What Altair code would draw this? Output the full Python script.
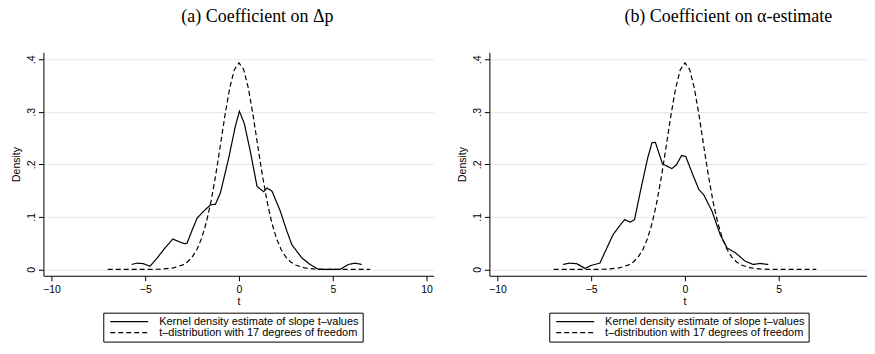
import altair as alt
import pandas as pd

KDE = "Kernel density estimate of slope t–values"
TD = "t–distribution with 17 degrees of freedom"

# t-distribution (17 df) curve
t_grid = [-7.0, -6.0, -5.5, -5.0, -4.5, -4.0, -3.5, -3.0, -2.75, -2.5, -2.25, -2.0,
          -1.75, -1.5, -1.25, -1.0, -0.75, -0.5, -0.25, 0.0, 0.25, 0.5, 0.75, 1.0,
          1.25, 1.5, 1.75, 2.0, 2.25, 2.5, 2.75, 3.0, 3.5, 4.0, 4.5, 5.0, 5.5, 6.0, 7.0]
t_dens = [0.0, 0.00001, 0.00004, 0.0001, 0.0003, 0.0010, 0.0030, 0.0086, 0.0143, 0.0235,
          0.0376, 0.0587, 0.0885, 0.1284, 0.1782, 0.2350, 0.2933, 0.3447, 0.3803, 0.3931,
          0.3803, 0.3447, 0.2933, 0.2350, 0.1782, 0.1284, 0.0885, 0.0587, 0.0376, 0.0235,
          0.0143, 0.0086, 0.0030, 0.0010, 0.0003, 0.0001, 0.00004, 0.00001, 0.0]

# panel (a) kernel density
a_t = [-5.73, -5.45, -5.1, -4.75, -4.36, -3.92, -3.53, -3.21, -2.9, -2.77, -2.5, -2.23,
       -1.88, -1.52, -1.26, -0.99, -0.55, -0.20, 0.02, 0.28, 0.60, 0.96, 1.31, 1.49,
       1.76, 2.20, 2.55, 2.82, 3.35, 3.79, 4.24, 5.39, 5.83, 6.19, 6.54]
a_d = [0.0095, 0.012, 0.011, 0.006, 0.022, 0.042, 0.058, 0.053, 0.049, 0.050, 0.075, 0.098,
       0.111, 0.123, 0.124, 0.146, 0.212, 0.272, 0.301, 0.278, 0.225, 0.158, 0.148, 0.155,
       0.149, 0.111, 0.073, 0.047, 0.022, 0.0095, 0.0, 0.0, 0.0095, 0.012, 0.0095]

# panel (b) kernel density
b_t = [-6.51, -6.16, -5.77, -5.33, -4.98, -4.54, -3.84, -3.57, -3.22, -2.92, -2.69, -2.34,
       -1.99, -1.76, -1.58, -1.20, -0.70, -0.46, -0.18, 0.04, 0.42, 0.74, 1.00, 1.44,
       1.88, 2.24, 2.68, 3.20, 3.64, 4.00, 4.44]
b_d = [0.0095, 0.012, 0.011, 0.002, 0.008, 0.012, 0.066, 0.079, 0.095, 0.090, 0.095, 0.155,
       0.212, 0.241, 0.242, 0.201, 0.192, 0.199, 0.217, 0.215, 0.180, 0.152, 0.142, 0.111,
       0.066, 0.041, 0.032, 0.016, 0.0095, 0.0114, 0.0095]

x_ticks = [-10, -5, 0, 5, 10]
y_ticks = [0, 0.1, 0.2, 0.3, 0.4]

SANS = "Liberation Sans"
SERIF = "Liberation Serif"


def panel(kt, kd, title, dx):
    df = pd.DataFrame({
        "t": kt + t_grid,
        "d": kd + t_dens,
        "s": [KDE] * len(kt) + [TD] * len(t_grid),
    })
    return alt.Chart(df).mark_line(color="black", strokeWidth=1.2).encode(
        x=alt.X("t:Q",
                scale=alt.Scale(domain=[-10.43, 10.37], nice=False, zero=False),
                axis=alt.Axis(values=x_ticks, title="t", grid=False, tickSize=5,
                              labelFontSize=10.5, titleFontSize=10.5, labelPadding=4,
                              titlePadding=1, titleFontWeight="normal",
                              domainColor="black", tickColor="black", labelColor="black",
                              labelFont=SANS, titleFont=SANS)),
        y=alt.Y("d:Q",
                scale=alt.Scale(domain=[-0.012, 0.4133], nice=False, zero=False),
                axis=alt.Axis(values=y_ticks, title="Density", grid=True,
                              gridColor="#e6e6e6", gridWidth=1, tickSize=5,
                              labelAngle=270, labelFontSize=10.5, titleFontSize=10.5,
                              labelPadding=2, titlePadding=5, titleFontWeight="normal",
                              labelExpr="datum.value == 0 ? '0' : replace(format(datum.value, '.1f'), '0.', '.')",
                              domainColor="black", tickColor="black", labelColor="black",
                              labelFont=SANS, titleFont=SANS)),
        strokeDash=alt.StrokeDash(
            "s:N",
            scale=alt.Scale(domain=[KDE, TD], range=[[1, 0], [5, 3]]),
            legend=alt.Legend(title=None, orient="none", legendX=60, legendY=261,
                              direction="vertical", strokeColor="black", fillColor="white",
                              padding=4, symbolType="stroke", symbolSize=1444,
                              clipHeight=10, symbolStrokeWidth=1.1,
                              symbolStrokeColor="black", symbolOffset=2,
                              labelFont=SANS, labelFontSize=11, labelOffset=10,
                              labelLimit=400, labelColor="black", rowPadding=0,
                              cornerRadius=0),
        ),
    ).properties(
        width=391, height=224,
        title=alt.Title(title, font=SERIF, fontSize=18, fontWeight="normal",
                        anchor="middle", frame="group", baseline="alphabetic",
                        offset=12.5, dx=dx, color="black"),
    )


left = panel(a_t, a_d, "(a) Coefficient on Δp", 19)
right = panel(b_t, b_d, "(b) Coefficient on α-estimate", 44)

chart = alt.hconcat(left, right, spacing=56, bounds="flush").resolve_scale(
    strokeDash="independent"
).resolve_legend(
    strokeDash="independent"
).properties(
    padding={"left": 3.5, "top": -1, "right": -12.5, "bottom": 0}
).configure_view(stroke=None)

chart.save("out.html", embed_options={"renderer": "svg", "actions": False})
